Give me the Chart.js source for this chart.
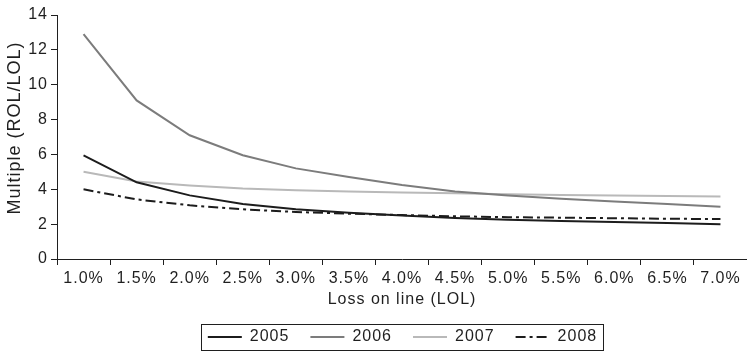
<!DOCTYPE html>
<html>
<head>
<meta charset="utf-8">
<script src="https://cdn.jsdelivr.net/npm/chart.js@4/dist/chart.umd.min.js"></script>
<style>
  html, body { margin: 0; padding: 0; background: #fff; }
  #wrap { width: 747px; height: 351px; }
</style>
</head>
<body>
<div id="wrap"><canvas id="chart"></canvas></div>
<script>
const LOSS_LABELS = ['1.0%', '1.5%', '2.0%', '2.5%', '3.0%', '3.5%', '4.0%', '4.5%', '5.0%', '5.5%', '6.0%', '6.5%', '7.0%'];
const SERIES_2005 = [5.95, 4.4, 3.65, 3.15, 2.85, 2.65, 2.5, 2.35, 2.25, 2.18, 2.12, 2.06, 2.0];
const SERIES_2006 = [12.9, 9.1, 7.1, 5.95, 5.2, 4.7, 4.25, 3.87, 3.65, 3.45, 3.3, 3.15, 3.0];
const SERIES_2007 = [5.0, 4.45, 4.22, 4.05, 3.95, 3.88, 3.82, 3.77, 3.72, 3.67, 3.64, 3.61, 3.59];
const SERIES_2008 = [4.0, 3.42, 3.08, 2.85, 2.7, 2.6, 2.52, 2.45, 2.4, 2.37, 2.34, 2.31, 2.29];
const Y_MIN = 0;
const Y_MAX = 14;
const Y_STEP = 2;

const FONT = 'Liberation Sans, Arial, Helvetica, sans-serif';
const INK = '#1f1f1f';
const LEGEND_SHIFT = 29; // source legend is centred under the plot, not the canvas

function lineSet(label, data, color, dash = []) {
  return {
    label,
    data,
    borderColor: color,
    backgroundColor: color,
    borderWidth: 2,
    borderDash: dash,
    pointRadius: 0,
    tension: 0,
    fill: false,
  };
}

// the source type is a little wide, so space the letters out
const wideText = {
  id: 'wideText',
  beforeLayout(chart) {
    chart.ctx.letterSpacing = '1px';
  },
  beforeDraw(chart) {
    chart.ctx.letterSpacing = '1px';
  },
};

const legendPlacement = {
  id: 'legendPlacement',
  afterLayout(chart) {
    chart.legend.left += LEGEND_SHIFT;
    chart.legend.right += LEGEND_SHIFT;
  },
};

// frame round the legend items, like the boxed legend of the source
const legendFrame = {
  id: 'legendFrame',
  afterDraw(chart) {
    const boxes = chart.legend.legendHitBoxes;
    if (!boxes || !boxes.length) {
      return;
    }
    const left = Math.min(...boxes.map((b) => b.left)) - 7;
    const right = Math.max(...boxes.map((b) => b.left + b.width)) + 6;
    const top = Math.min(...boxes.map((b) => b.top)) - 5;
    const bottom = Math.max(...boxes.map((b) => b.top + b.height)) + 5;
    const ctx = chart.ctx;
    ctx.save();
    ctx.strokeStyle = INK;
    ctx.lineWidth = 1;
    ctx.strokeRect(Math.round(left) + 0.5, Math.round(top) + 0.5, Math.round(right - left), Math.round(bottom - top));
    ctx.restore();
  },
};

new Chart(document.getElementById('chart'), {
  type: 'line',
  data: {
    labels: LOSS_LABELS,
    datasets: [
      lineSet('2005', SERIES_2005, '#1c1c1c'),
      lineSet('2006', SERIES_2006, '#7c7c7c'),
      lineSet('2007', SERIES_2007, '#b9b9b9'),
      lineSet('2008', SERIES_2008, '#1c1c1c', [10, 4, 3, 4]),
    ],
  },
  options: {
    responsive: true,
    maintainAspectRatio: false,
    animation: false,
    layout: {
      padding: { top: 15, right: 0, bottom: -4, left: 0 },
    },
    scales: {
      x: {
        offset: true,
        afterFit(scale) {
          scale.height = 49;
        },
        grid: {
          offset: true,
          drawOnChartArea: false,
          drawTicks: true,
          tickLength: 6,
          tickColor: INK,
        },
        border: { color: INK, width: 1 },
        ticks: {
          color: INK,
          padding: 4,
          maxRotation: 0,
          font: { family: FONT, size: 16 },
        },
        title: {
          display: true,
          text: 'Loss on line (LOL)',
          color: INK,
          padding: { top: 0, bottom: 0 },
          font: { family: FONT, size: 16, lineHeight: 1 },
        },
      },
      y: {
        min: Y_MIN,
        max: Y_MAX,
        afterFit(scale) {
          scale.width = 57;
        },
        grid: {
          drawOnChartArea: false,
          drawTicks: true,
          tickLength: 6,
          tickColor: INK,
        },
        border: { color: INK, width: 1 },
        ticks: {
          stepSize: Y_STEP,
          color: INK,
          padding: 3,
          font: { family: FONT, size: 16 },
        },
        title: {
          display: true,
          text: '   Multiple (ROL/LOL)',
          color: INK,
          padding: { top: 4, bottom: 0 },
          font: { family: FONT, size: 18 },
        },
      },
    },
    plugins: {
      legend: {
        display: true,
        position: 'bottom',
        labels: {
          color: INK,
          usePointStyle: true,
          pointStyle: 'line',
          pointStyleWidth: 34,
          padding: 21,
          font: { family: FONT, size: 16 },
          generateLabels(chart) {
            const items = Chart.defaults.plugins.legend.labels.generateLabels(chart);
            items.forEach((item) => {
              const ds = chart.data.datasets[item.datasetIndex];
              item.lineDash = ds.borderDash || [];
              item.lineWidth = ds.borderWidth;
              item.strokeStyle = ds.borderColor;
            });
            return items;
          },
        },
      },
      tooltip: { enabled: false },
    },
  },
  plugins: [wideText, legendPlacement, legendFrame],
});
</script>
</body>
</html>
